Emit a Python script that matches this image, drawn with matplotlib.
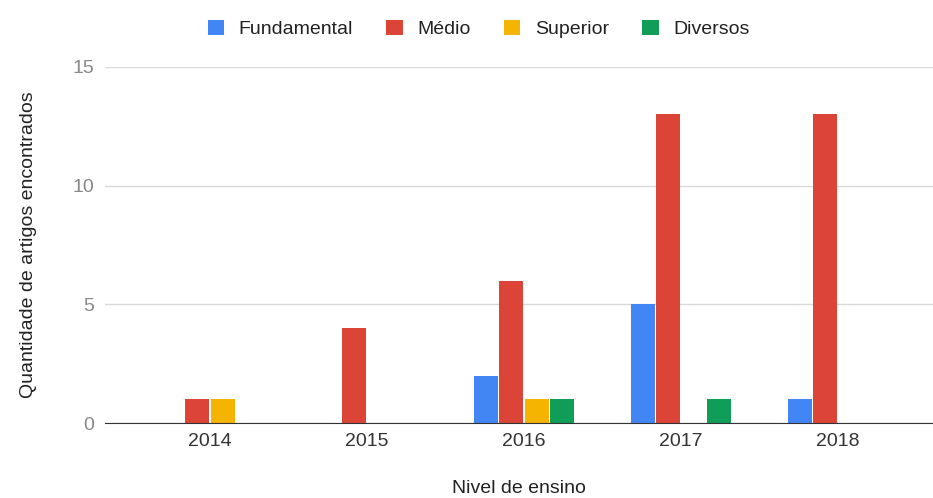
import matplotlib.pyplot as plt
import numpy as np

plt.rcParams["font.family"] = ["Liberation Sans", "DejaVu Sans"]

years = ["2014", "2015", "2016", "2017", "2018"]
series = ["Fundamental", "Médio", "Superior", "Diversos"]
fundamental = [0, 0, 2, 5, 1]
medio = [1, 4, 6, 13, 13]
superior = [1, 0, 1, 0, 0]
diversos = [0, 0, 1, 1, 0]
colors = ["#4285F4", "#DB4437", "#F4B400", "#0F9D58"]

values = [fundamental, medio, superior, diversos]

fig = plt.figure(figsize=(9.33, 4.98), dpi=100)
ax = fig.add_axes([0.1125, 0.1506, 0.8875, 0.7149])

x = np.arange(len(years))
step = 0.162
width = 0.152
for i, (name, vals, c) in enumerate(zip(series, values, colors)):
    ax.bar(x + (i - 1.5) * step, vals, width, color=c, label=name, zorder=3)

ax.set_ylim(0, 15)
ax.set_xlim(-0.669, 4.605)
ax.set_yticks([0, 5, 10, 15])
ax.set_xticks(x)
ax.set_xticklabels(years)
ax.grid(axis="y", color="#d9d9d9", linewidth=1, zorder=0)
for s in ["top", "right", "left"]:
    ax.spines[s].set_visible(False)
ax.spines["bottom"].set_color("#333333")
ax.spines["bottom"].set_zorder(4)
ax.tick_params(axis="y", length=0, pad=8, labelsize=14, labelcolor="#888888")
ax.tick_params(axis="x", length=0, pad=7, labelsize=14, labelcolor="#333333")

ax.set_xlabel("Nivel de ensino", fontsize=14, color="#222222", labelpad=22)
ax.set_ylabel("Quantidade de artigos encontrados", fontsize=14, color="#222222", labelpad=25)

fig.legend(loc="upper center", bbox_to_anchor=(0.513, 0.995), ncol=4, frameon=False,
           fontsize=14, handlelength=0.85, handleheight=0.85, columnspacing=1.7,
           handletextpad=0.75, labelcolor="#222222")

fig.savefig("out.png", dpi=100)
